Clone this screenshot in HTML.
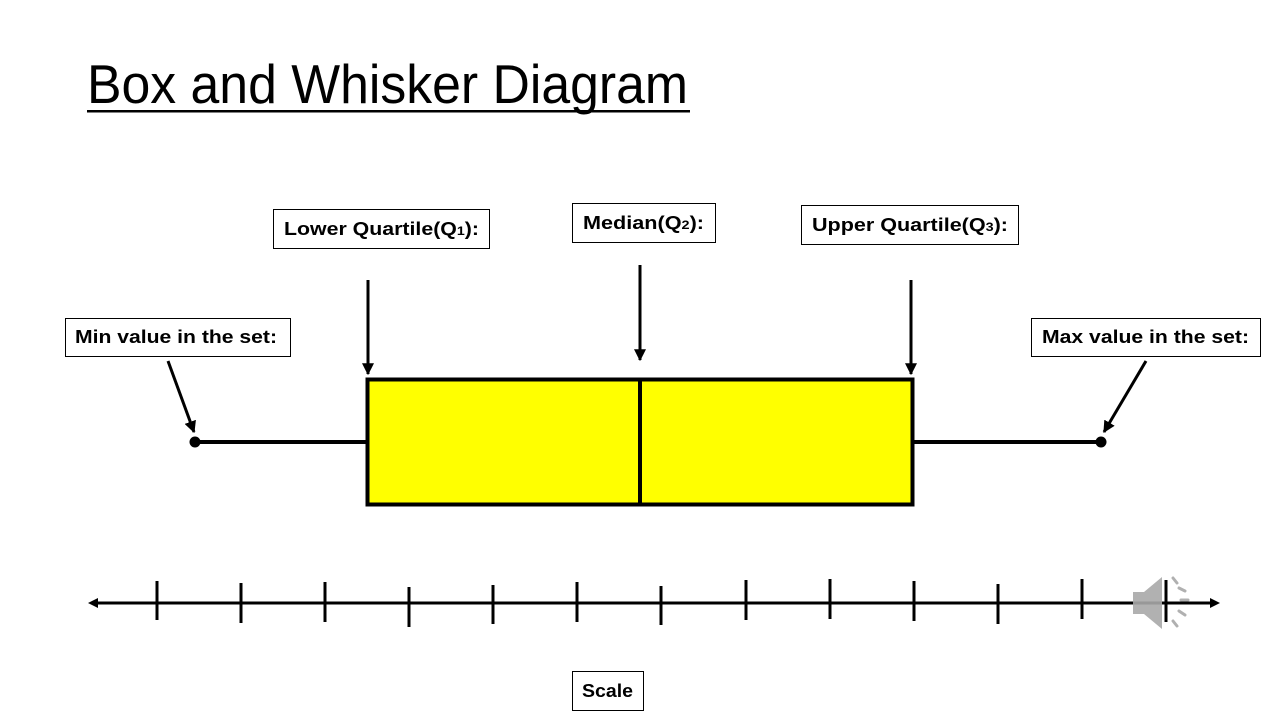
<!DOCTYPE html>
<html><head><meta charset="utf-8"><style>
html,body{margin:0;padding:0;background:#fff;width:1280px;height:720px;overflow:hidden}
svg{display:block}
.l{font-family:"Liberation Sans",sans-serif;font-weight:bold;font-size:18px;fill:#000}
</style></head><body>
<svg width="1280" height="720" viewBox="0 0 1280 720" xmlns="http://www.w3.org/2000/svg">
<defs>
<marker id="ah" viewBox="0 0 10 10" refX="9" refY="5" markerWidth="4" markerHeight="4" orient="auto" markerUnits="strokeWidth">
<path d="M0,0 L10,5 L0,10 z" fill="#000"/></marker>
</defs>
<text x="87" y="103" font-family="Liberation Sans, sans-serif" font-size="55" textLength="601" lengthAdjust="spacingAndGlyphs" fill="#000">Box and Whisker Diagram</text>
<rect x="87" y="110" width="603" height="2.5" fill="#000"/>

<!-- label boxes -->
<g fill="#fff" stroke="#000" stroke-width="1">
<rect x="273.5" y="209.5" width="216" height="39"/>
<rect x="572.5" y="203.5" width="143" height="39"/>
<rect x="801.5" y="205.5" width="217" height="39"/>
<rect x="65.5" y="318.5" width="225" height="38"/>
<rect x="1031.5" y="318.5" width="229" height="38"/>
<rect x="572.5" y="671.5" width="71" height="39"/>
</g>
<text class="l" x="284" y="235" textLength="195" lengthAdjust="spacingAndGlyphs">Lower Quartile(Q<tspan font-size="12">1</tspan>):</text>
<text class="l" x="583" y="229" textLength="121" lengthAdjust="spacingAndGlyphs">Median(Q<tspan font-size="12">2</tspan>):</text>
<text class="l" x="812" y="231" textLength="196" lengthAdjust="spacingAndGlyphs">Upper Quartile(Q<tspan font-size="12">3</tspan>):</text>
<text class="l" x="75" y="343" textLength="202" lengthAdjust="spacingAndGlyphs">Min value in the set:</text>
<text class="l" x="1042" y="343" textLength="207" lengthAdjust="spacingAndGlyphs">Max value in the set:</text>
<text class="l" x="582" y="697" textLength="51" lengthAdjust="spacingAndGlyphs">Scale</text>

<!-- arrows -->
<g stroke="#000" stroke-width="3" marker-end="url(#ah)">
<line x1="368" y1="280" x2="368" y2="374"/>
<line x1="640" y1="265" x2="640" y2="360"/>
<line x1="911" y1="280" x2="911" y2="374"/>
<line x1="168" y1="361" x2="194" y2="432"/>
<line x1="1146" y1="361" x2="1104" y2="432"/>
</g>

<!-- whiskers -->
<g stroke="#000" stroke-width="4">
<line x1="195" y1="442" x2="367" y2="442"/>
<line x1="913" y1="442" x2="1101" y2="442"/>
</g>
<circle cx="195" cy="442" r="5.5" fill="#000"/>
<circle cx="1101" cy="442" r="5.5" fill="#000"/>
<rect x="367.5" y="379.5" width="545" height="125" fill="#ffff00" stroke="#000" stroke-width="4"/>
<line x1="640" y1="379" x2="640" y2="505" stroke="#000" stroke-width="4"/>

<!-- scale axis -->
<line x1="94" y1="603" x2="1214" y2="603" stroke="#000" stroke-width="3"/>
<path d="M88,603 L98,598 L98,608 z" fill="#000"/>
<path d="M1220,603 L1210,598 L1210,608 z" fill="#000"/>
<g stroke="#000" stroke-width="3">
<line x1="157" y1="581" x2="157" y2="620"/>
<line x1="241" y1="583" x2="241" y2="623"/>
<line x1="325" y1="582" x2="325" y2="622"/>
<line x1="409" y1="587" x2="409" y2="627"/>
<line x1="493" y1="585" x2="493" y2="624"/>
<line x1="577" y1="582" x2="577" y2="622"/>
<line x1="661" y1="586" x2="661" y2="625"/>
<line x1="746" y1="580" x2="746" y2="620"/>
<line x1="830" y1="579" x2="830" y2="619"/>
<line x1="914" y1="581" x2="914" y2="621"/>
<line x1="998" y1="584" x2="998" y2="624"/>
<line x1="1082" y1="579" x2="1082" y2="619"/>
<line x1="1166" y1="580" x2="1166" y2="622"/>
</g>

<!-- speaker icon -->
<g>
<path d="M1133,592 L1144,592 L1162,577 L1162,629 L1144,614 L1133,614 z" fill="#a8a8a8" opacity="0.9"/>
<g stroke="#b0b0b0" stroke-width="3" stroke-linecap="round">
<line x1="1173" y1="578" x2="1177" y2="583"/>
<line x1="1179" y1="588" x2="1185" y2="591"/>
<line x1="1181" y1="600" x2="1188" y2="600"/>
<line x1="1179" y1="611" x2="1185" y2="615"/>
<line x1="1173" y1="621" x2="1177" y2="626"/>
</g>
</g>
</svg>
</body></html>
